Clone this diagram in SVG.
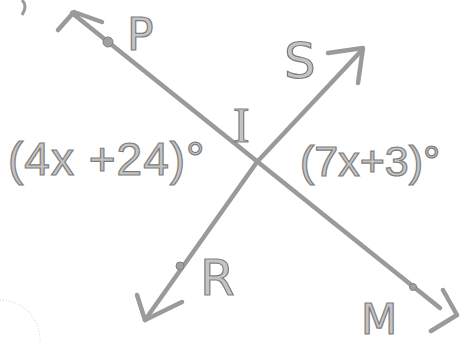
<svg xmlns="http://www.w3.org/2000/svg" width="460" height="343" viewBox="0 0 460 343">
<style>
.ln{fill:none;stroke:#9a9a9a;stroke-width:4.5;stroke-linecap:round;stroke-linejoin:round}
.dot{fill:#a0a0a0;stroke:#808080;stroke-width:1}
.lbl{font-family:"DejaVu Sans",sans-serif;fill:#c4c4c4;stroke:#7d7d7d;stroke-width:1.2}
.ang{font-family:"Liberation Sans",Arial,sans-serif;fill:#c4c4c4;stroke:#7d7d7d;stroke-width:1.2}
.srf{font-family:"Liberation Serif",serif;fill:#c4c4c4;stroke:#7d7d7d;stroke-width:1.2}
</style>
<rect width="460" height="343" fill="#fff"/>
<g id="connectors">
  <g id="line-PM">
    <path class="ln" d="M72 13 L440 308"/>
    <path class="ln" d="M102 22 L74 12 L58 30"/>
    <path class="ln" d="M443 290 L457 315 L431 331"/>
    <circle class="dot" cx="108" cy="42" r="5"/>
    <circle class="dot" cx="413" cy="287" r="3.5"/>
  </g>
  <g id="line-RS">
    <path class="ln" d="M145 320 L257 162 L362 50"/>
    <path class="ln" d="M328 53 L363 48 L358 83"/>
    <path class="ln" d="M137 295 L145 320 L182 302"/>
    <circle class="dot" cx="180" cy="266" r="4"/>
  </g>
</g>
<g id="label-P"><text class="lbl" x="127" y="50" font-size="44">P</text></g>
<g id="label-S"><text class="lbl" x="284" y="78" font-size="50">S</text></g>
<g id="label-I"><text class="srf" x="233" y="142" font-size="50">I</text></g>
<g id="label-R"><text class="lbl" x="200" y="295" font-size="50">R</text></g>
<g id="label-M"><text class="lbl" x="361" y="334" font-size="42">M</text></g>
<g id="angle-left"><text class="ang" x="8" y="175" font-size="46" letter-spacing="1">(4x +24)°</text></g>
<g id="angle-right"><text class="ang" x="300" y="176" font-size="43">(7x+3)°</text></g>
<path d="M22 0 Q28 6 22 15" fill="none" stroke="#9a9a9a" stroke-width="3"/>
<path d="M0 300 A40 40 0 0 1 40 343" fill="none" stroke="#c8c8c8" stroke-width="1" stroke-dasharray="1 2"/>
</svg>
